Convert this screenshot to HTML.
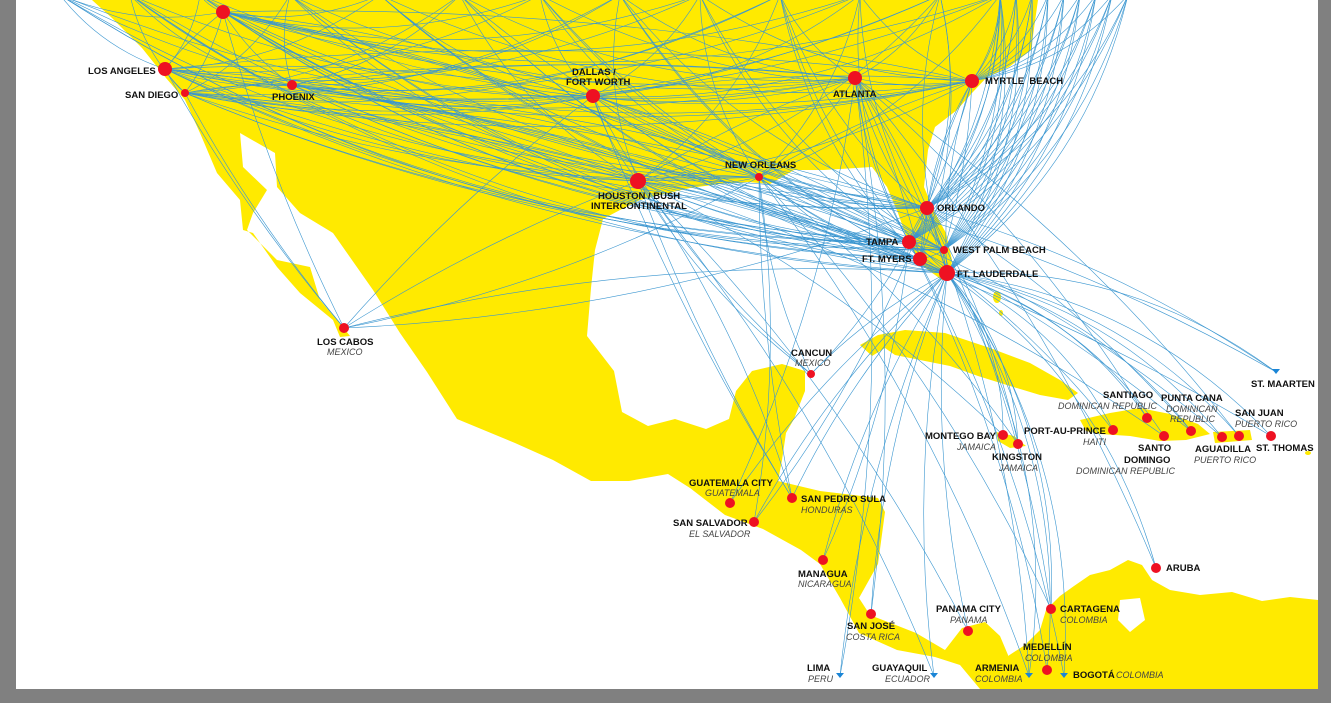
<!DOCTYPE html>
<html><head><meta charset="utf-8">
<style>
html,body{margin:0;padding:0;background:#808080;}
#wrap{position:absolute;left:0;top:0;width:1331px;height:703px;overflow:hidden;background:#808080;}
svg{position:absolute;left:0;top:0;}
.c{font-family:"Liberation Sans",sans-serif;font-weight:bold;font-size:9.5px;fill:#111;}
.n{font-family:"Liberation Sans",sans-serif;font-style:italic;font-size:9px;fill:#444;}
</style></head><body><div id="wrap">
<svg width="1331" height="703" viewBox="0 0 1331 703" id="s">
<defs><clipPath id="cp"><rect x="16" y="0" width="1302" height="689"/></clipPath></defs>
<rect x="16" y="0" width="1302" height="689" fill="#fff"/>
<g clip-path="url(#cp)" fill="#ffea00">
<polygon points="85,0 1038,0 1031,50 1009,67 987,77 972,93 957,110 935,127 928,150 924,187 935,213 946,233 952,260 950,277 942,280 924,267 913,250 905,233 898,213 887,187 872,167 824,170 794,170 770,184 748,182 720,184 690,188 660,195 640,200 620,210 603,219 595,250 591,288 587,336 614,371 622,412 648,426 675,419 706,429 729,419 736,391 752,371 782,364 805,371 805,391 794,419 786,433 782,460 778,481 820,491 878,498 885,512 878,564 859,598 870,615 916,633 945,650 962,628 985,622 1000,636 1008,655 1015,689 980,689 960,665 935,657 897,650 859,633 840,598 820,564 801,550 763,529 725,515 690,488 668,474 629,481 591,481 553,460 515,443 457,419 427,372 400,333 373,290 333,233 300,213 277,187 275,153 240,133 243,167 267,190 253,213 247,230 277,260 310,267 320,300 343,327 350,336 340,337 333,320 300,293 277,267 253,233 243,230 240,200 217,173 200,133 185,100 166,78 142,48 112,18 92,0"/>
<polygon points="1005,689 1318,689 1318,600 1290,597 1262,601 1232,592 1200,595 1170,590 1152,580 1142,565 1128,560 1110,570 1090,575 1074,586 1060,596 1046,610 1040,630 1025,645 1008,656"/>
<polygon points="860,345 878,335 905,330 945,333 990,348 1030,363 1060,380 1078,393 1068,400 1040,395 1010,386 978,376 950,366 920,360 895,355 885,348 872,356"/>
<polygon points="1080,420 1110,413 1140,408 1170,414 1198,424 1210,434 1186,440 1160,441 1130,436 1100,434 1086,431"/>
<polygon points="996,432 1014,436 1026,446 1010,448 998,441"/>
<polygon points="1213,432 1250,430 1252,440 1215,443"/>
<ellipse cx="997" cy="297" rx="4" ry="6"/><ellipse cx="1001" cy="313" rx="2" ry="3"/>
<ellipse cx="1308" cy="453" rx="3" ry="2"/>
</g>
<polygon points="1120,600 1140,598 1145,620 1130,632 1118,620" fill="#fff"/>
<g id="lines" fill="none" stroke="#3a96d0" stroke-width="0.6" clip-path="url(#cp)"></g>
<g id="dots" fill="#ee1122"></g>
<g>
<text class="c" x="88" y="74">LOS ANGELES</text>
<text class="c" x="125" y="98">SAN DIEGO</text>
<text class="c" x="272" y="100">PHOENIX</text>
<text class="c" x="572" y="75">DALLAS /</text>
<text class="c" x="566" y="85">FORT WORTH</text>
<text class="c" x="833" y="97">ATLANTA</text>
<text class="c" x="985" y="84">MYRTLE&#160; BEACH</text>
<text class="c" x="725" y="168">NEW ORLEANS</text>
<text class="c" x="598" y="199">HOUSTON / BUSH</text>
<text class="c" x="591" y="209">INTERCONTINENTAL</text>
<text class="c" x="937" y="211">ORLANDO</text>
<text class="c" x="866" y="245">TAMPA</text>
<text class="c" x="862" y="262">FT. MYERS</text>
<text class="c" x="953" y="253">WEST PALM BEACH</text>
<text class="c" x="957" y="277">FT. LAUDERDALE</text>
<text class="c" x="317" y="345">LOS CABOS</text><text class="n" x="327" y="355">MEXICO</text>
<text class="c" x="791" y="356">CANCUN</text><text class="n" x="795" y="366">MEXICO</text>
<text class="c" x="1251" y="387">ST. MAARTEN</text>
<text class="c" x="1103" y="398">SANTIAGO</text><text class="n" x="1058" y="409">DOMINICAN REPUBLIC</text>
<text class="c" x="1161" y="401">PUNTA CANA</text><text class="n" x="1166" y="412">DOMINICAN</text><text class="n" x="1170" y="422">REPUBLIC</text>
<text class="c" x="1235" y="416">SAN JUAN</text><text class="n" x="1235" y="427">PUERTO RICO</text>
<text class="c" x="925" y="439">MONTEGO BAY</text><text class="n" x="957" y="450">JAMAICA</text>
<text class="c" x="992" y="460">KINGSTON</text><text class="n" x="999" y="471">JAMAICA</text>
<text class="c" x="1024" y="434">PORT-AU-PRINCE</text><text class="n" x="1083" y="445">HAITI</text>
<text class="c" x="1138" y="451">SANTO</text><text class="c" x="1124" y="463">DOMINGO</text><text class="n" x="1076" y="474">DOMINICAN REPUBLIC</text>
<text class="c" x="1195" y="452">AGUADILLA</text><text class="n" x="1194" y="463">PUERTO RICO</text>
<text class="c" x="1256" y="451">ST. THOMAS</text>
<text class="c" x="689" y="486">GUATEMALA CITY</text><text class="n" x="705" y="496">GUATEMALA</text>
<text class="c" x="801" y="502">SAN PEDRO SULA</text><text class="n" x="801" y="513">HONDURAS</text>
<text class="c" x="673" y="526">SAN SALVADOR</text><text class="n" x="689" y="537">EL SALVADOR</text>
<text class="c" x="1166" y="571">ARUBA</text>
<text class="c" x="798" y="577">MANAGUA</text><text class="n" x="798" y="587">NICARAGUA</text>
<text class="c" x="936" y="612">PANAMA CITY</text><text class="n" x="950" y="623">PANAMA</text>
<text class="c" x="1060" y="612">CARTAGENA</text><text class="n" x="1060" y="623">COLOMBIA</text>
<text class="c" x="847" y="629">SAN JOSÉ</text><text class="n" x="846" y="640">COSTA RICA</text>
<text class="c" x="1023" y="650">MEDELLÍN</text><text class="n" x="1025" y="661">COLOMBIA</text>
<text class="c" x="807" y="671">LIMA</text><text class="n" x="808" y="682">PERU</text>
<text class="c" x="872" y="671">GUAYAQUIL</text><text class="n" x="885" y="682">ECUADOR</text>
<text class="c" x="975" y="671">ARMENIA</text><text class="n" x="975" y="682">COLOMBIA</text>
<text class="c" x="1073" y="678">BOGOTÁ</text><text class="n" x="1116" y="678">COLOMBIA</text>
</g>
</svg>
<script>
(function(){
var g=document.getElementById('lines'),d=document.getElementById('dots'),ns='http://www.w3.org/2000/svg';
var H={LA:[165,69,7],SD:[185,93,4],LV:[223,12,7],PHX:[292,85,5],DFW:[593,96,7],IAH:[638,181,8],MSY:[759,177,4],ATL:[855,78,7],MYR:[972,81,7],MCO:[927,208,7],TPA:[909,242,7],RSW:[920,259,7],PBI:[944,250,4],FLL:[947,273,8]};
var D={SJD:[344,328,5],CUN:[811,374,4],GUA:[730,503,5],SAP:[792,498,5],SAL:[754,522,5],MGA:[823,560,5],SJO:[871,614,5],PTY:[968,631,5],CTG:[1051,609,5],MDE:[1047,670,5],AUA:[1156,568,5],MBJ:[1003,435,5],KIN:[1018,444,5],PAP:[1113,430,5],STI:[1147,418,5],SDQ:[1164,436,5],PUJ:[1191,431,5],BQN:[1222,437,5],SJU:[1239,436,5],STT:[1271,436,5],
AXM:[1029,676,0],BOG:[1064,676,0],LIM:[840,676,0],GYE:[934,676,0],SXM:[1276,372,0]};
function curve(a,b,k){var mx=(a[0]+b[0])/2,my=(a[1]+b[1])/2,dx=b[0]-a[0],dy=b[1]-a[1];var cx=mx-dy*k,cy=my+dx*k;var p=document.createElementNS(ns,'path');p.setAttribute('d','M'+a[0]+','+a[1]+' Q'+cx+','+cy+' '+b[0]+','+b[1]);g.appendChild(p);}
var hk=Object.keys(H);
for(var i=0;i<hk.length;i++)for(var j=i+1;j<hk.length;j++){curve(H[hk[i]],H[hk[j]],((i+j)%2?0.1:-0.06));}
var tops=[60,130,200,290,380,460,540,620,700,780,860,940,1000];
hk.forEach(function(h,ii){for(var t=0;t<tops.length;t++){if((t+ii)%2!=0)continue;curve(H[h],[tops[t],-5],(H[h][0]<tops[t])?0.15:-0.15);}});
['FLL','MCO','MYR','PBI','TPA'].forEach(function(h){for(var x=1000;x<=1140;x+=16)curve(H[h],[x,-5],0.18);});
var dk=Object.keys(D);
dk.forEach(function(k){curve(H.FLL,D[k],D[k][0]>1000?-0.18:0.08);});
['MCO','IAH','ATL','TPA','MSY'].forEach(function(h,ii){dk.forEach(function(k,jj){if((ii+jj)%4==0)curve(H[h],D[k],-0.08);});});
['LA','LV','IAH','SD','DFW'].forEach(function(h){curve(H[h],D.SJD,0.05);});
['IAH','MSY','DFW'].forEach(function(h){curve(H[h],D.CUN,0.1);curve(H[h],D.SAP,0.05);});
function dot(p){if(!p[2])return;var c=document.createElementNS(ns,'circle');c.setAttribute('cx',p[0]);c.setAttribute('cy',p[1]);c.setAttribute('r',p[2]);d.appendChild(c);}
hk.forEach(function(k){dot(H[k]);});dk.forEach(function(k){dot(D[k]);});
[[1029,676],[1064,676],[840,676],[934,676],[1276,372]].forEach(function(p){var t=document.createElementNS(ns,'polygon');t.setAttribute('points',(p[0]-4)+','+(p[1]-3)+' '+(p[0]+4)+','+(p[1]-3)+' '+p[0]+','+(p[1]+2));t.setAttribute('fill','#1a85d6');d.appendChild(t);});
})();
</script>
</div></body></html>
